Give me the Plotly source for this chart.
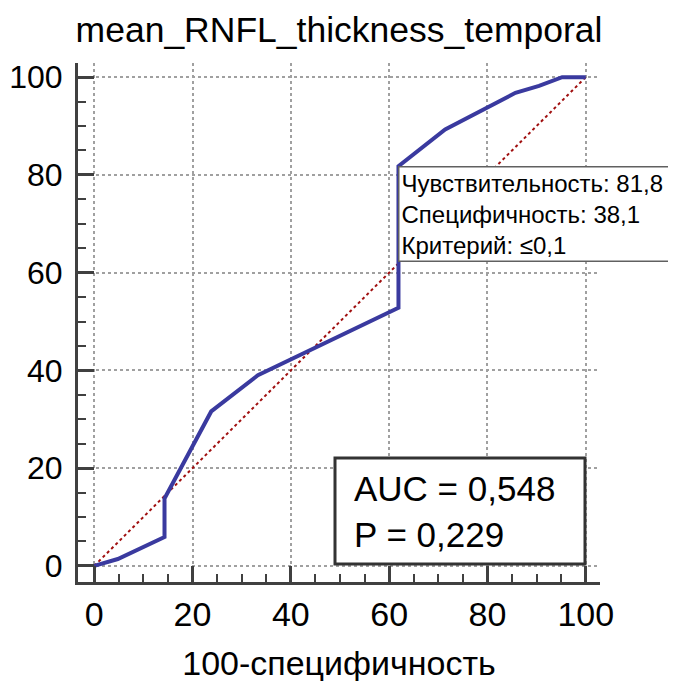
import plotly.graph_objects as go

# ROC data (100-specificity, sensitivity)
fpr = [0, 4.8, 14.3, 14.3, 23.8, 33.3, 61.9, 61.9, 71.4, 85.7, 90.5, 95.2, 100]
tpr = [0, 1.4, 5.9, 13.8, 31.6, 39.0, 52.8, 81.8, 89.3, 96.8, 98.2, 100, 100]
diag = [0, 100]
ticks = [0, 20, 40, 60, 80, 100]

crit_x = 61.9
crit_y = 81.8
sens_txt = "81,8"
spec_txt = "38,1"
crit_txt = "≤0,1"
auc_txt = "0,548"
p_txt = "0,229"

FONT = "Liberation Sans, Arial, sans-serif"

fig = go.Figure()
fig.add_trace(go.Scatter(x=diag, y=diag, mode="lines",
                         line=dict(color="#a01010", width=2, dash="dot"),
                         hoverinfo="skip", showlegend=False))
fig.add_trace(go.Scatter(x=fpr, y=tpr, mode="lines",
                         line=dict(color="#3a3a9f", width=4),
                         showlegend=False))

axis_common = dict(
    range=[-3.3, 102.9],
    tickmode="array", tickvals=ticks, ticktext=[str(t) for t in ticks],
    ticks="inside", ticklen=16, tickwidth=3, tickcolor="#404040",
    showline=True, linecolor="#404040", linewidth=3,
    showgrid=True, gridcolor="#a0a0a0", griddash="dot", gridwidth=1.5,
    zeroline=False, automargin=False,
    tickfont=dict(family=FONT, size=34, color="black"),
    minor=dict(dtick=5, tick0=0, ticks="inside", ticklen=8, tickwidth=2,
               tickcolor="#404040", showgrid=False),
)

# page body has an 8px offset; margins compensate for it
fig.update_layout(
    width=676, height=681,
    margin=dict(l=70, r=84, t=55, b=107),
    paper_bgcolor="white", plot_bgcolor="white",
    title=dict(text="mean_RNFL_thickness_temporal", x=0.5, xref="paper",
               y=1 - 22 / 681, yanchor="middle",
               font=dict(family=FONT, size=35.5, color="black")),
    xaxis=dict(**axis_common,
               title=dict(text="100-специфичность", standoff=20,
                          font=dict(family=FONT, size=34, color="black"))),
    yaxis=dict(**axis_common),
    font=dict(family=FONT),
)
fig.update_xaxes(ticklabelstandoff=0)
fig.update_yaxes(ticklabelstandoff=6, tickfont=dict(family=FONT, size=32, color="black"))

fig.add_annotation(
    x=crit_x, y=crit_y, xref="x", yref="y",
    xanchor="left", yanchor="top", align="left", showarrow=False,
    text=f"Чувствительность: {sens_txt}<br>Специфичность: {spec_txt}<br>Критерий: {crit_txt}",
    font=dict(family=FONT, size=24, color="black"),
    width=270,
    bgcolor="white", bordercolor="#606060", borderwidth=1.5, borderpad=2,
)

fig.add_shape(type="rect", xref="paper", yref="paper",
              x0=(335 - 78) / 522, x1=(585 - 78) / 522,
              y0=(582 - 564) / 519, y1=(582 - 458) / 519,
              line=dict(color="#333333", width=3), fillcolor="white", layer="above")
fig.add_annotation(
    x=(352 - 78) / 522, y=(582 - 511) / 519, xref="paper", yref="paper",
    xanchor="left", yanchor="middle", align="left", showarrow=False,
    text=f"AUC = {auc_txt}<br>P = {p_txt}",
    font=dict(family=FONT, size=35, color="black"),
)

fig.write_html("out.html")
